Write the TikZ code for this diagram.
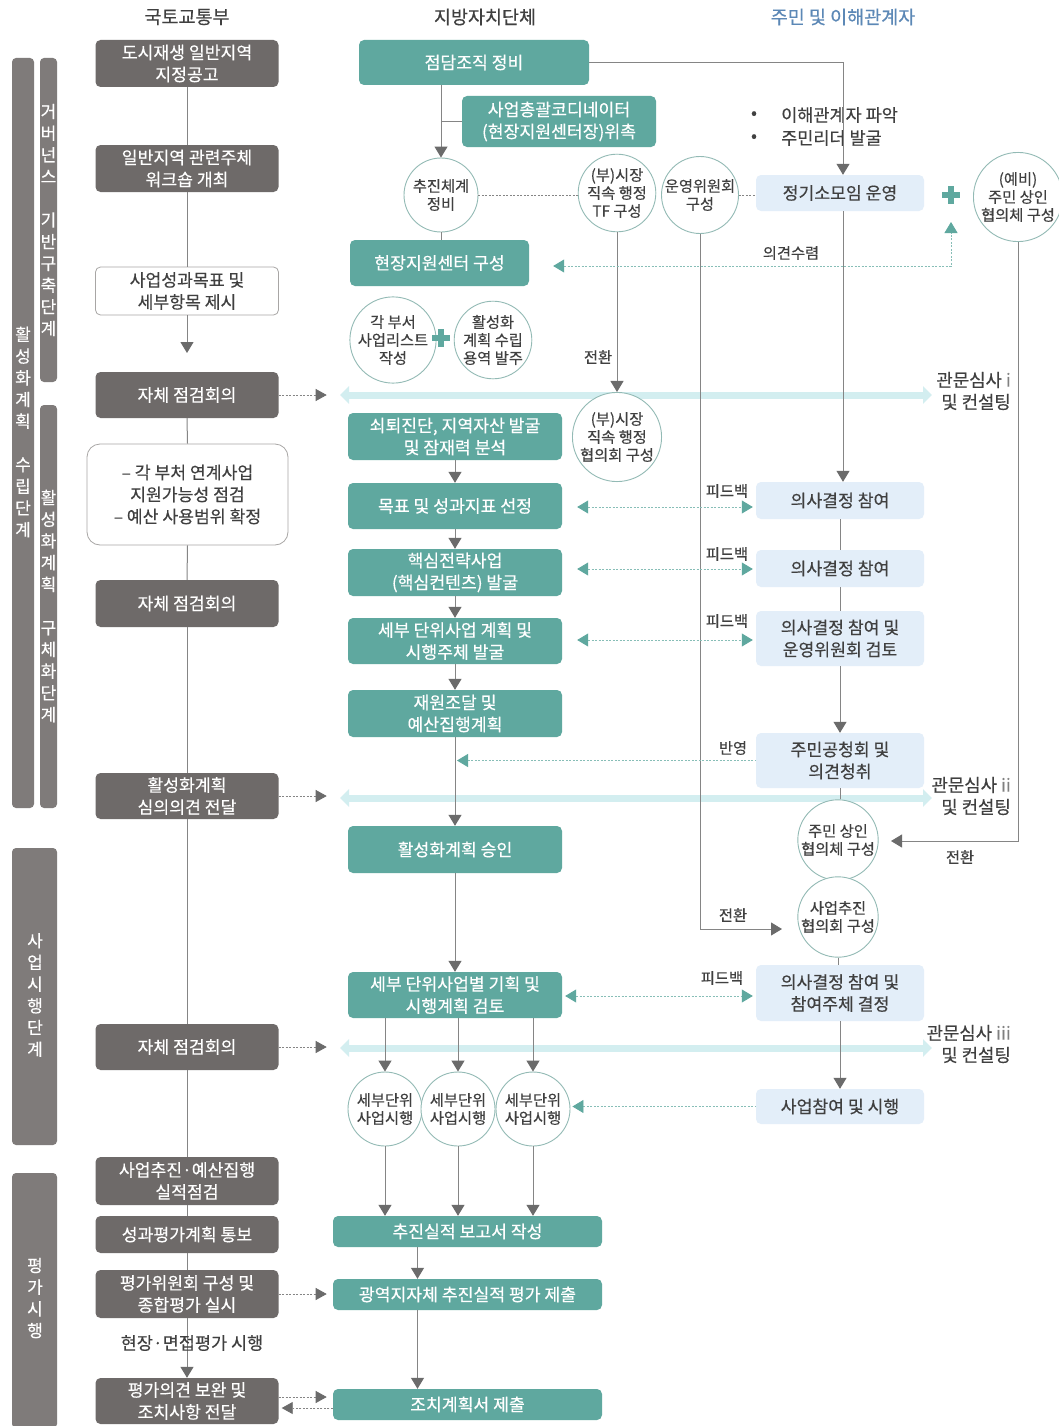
\documentclass[tikz,border=0pt]{standalone}
\usepackage{fontspec}
\setmainfont{Noto Sans CJK KR}[FakeBold=0.35]
\usetikzlibrary{arrows.meta,calc}

\definecolor{boxgray}{HTML}{6E6A69}
\definecolor{bargray}{HTML}{7F7B7A}
\definecolor{teal0}{HTML}{5FA89F}
\definecolor{pale}{HTML}{E3EEF9}
\definecolor{ringc}{HTML}{93BAB5}
\definecolor{wire}{HTML}{858585}
\definecolor{tipc}{HTML}{6B6B6B}
\definecolor{gatec}{HTML}{D3EEF0}
\definecolor{ink}{HTML}{404040}
\definecolor{headblue}{HTML}{5C88B6}

\tikzset{
  base/.style={rounded corners=5pt, align=center, inner sep=0pt,
    font=\fontsize{17.2}{22}\selectfont},
  gbox/.style={base, fill=boxgray, text=white, minimum width=183pt},
  wbox/.style={base, draw=boxgray!60, line width=0.8pt, fill=white, text=ink, minimum width=183pt},
  tbox/.style={base, fill=teal0, text=white, minimum width=214pt},
  pbox/.style={base, fill=pale, text=ink, minimum width=168pt},
  ring/.style={circle, draw=ringc, line width=0.9pt, fill=white, minimum size=74pt,
    inner sep=0pt, align=center, text=ink, font=\fontsize{15.3}{18}\selectfont},
  sidetext/.style={align=center, text=white, inner sep=0pt,
    font=\fontsize{17}{21.7}\selectfont},
  head/.style={text=ink, inner sep=0pt, font=\fontsize{18.5}{22}\selectfont},
  lbl/.style={text=ink, inner sep=0pt, font=\fontsize{15.3}{18}\selectfont},
  gatelbl/.style={text=ink, inner sep=0pt, align=right, anchor=east,
    font=\fontsize{17.8}{22}\selectfont},
  link/.style={draw=wire, line width=1pt},
  flow/.style={link, -{Triangle[length=11pt,width=13pt,color=tipc]}},
  dlink/.style={draw=wire, line width=0.8pt, dash pattern=on 2pt off 1.5pt},
  dflow/.style={dlink, -{Triangle[length=11pt,width=12pt,color=tipc]}},
  fbline/.style={draw=teal0!75, line width=0.8pt, dash pattern=on 2pt off 1.5pt},
  fb/.style={fbline, {Triangle[length=11pt,width=13pt,color=teal0]}-{Triangle[length=11pt,width=13pt,color=teal0]}},
  fbl/.style={fbline, {Triangle[length=11pt,width=13pt,color=teal0]}-},
  gate/.style={draw=gatec, line width=7pt,
    {Triangle[length=9pt,width=17pt]}-{Triangle[length=9pt,width=17pt]}}
}

\begin{document}
\begin{tikzpicture}[x=1pt,y=-1pt]
\useasboundingbox[fill=white] (0,0) rectangle (1059,1426);

% ---- stage bars on the left ----
\fill[bargray, rounded corners=4pt] (12,58) rectangle (34,808);
\fill[bargray, rounded corners=4pt] (40,58) rectangle (57,382);
\fill[bargray, rounded corners=4pt] (40,405) rectangle (57,808);
\fill[bargray, rounded corners=4pt] (12,848) rectangle (57,1145);
\fill[bargray, rounded corners=4pt] (12,1173) rectangle (57,1428);
\node[sidetext] (S1) at (23,432) {활\\성\\화\\계\\획\\[21.7pt]수\\립\\단\\계};
\node[sidetext] (S2) at (48.5,220) {거\\버\\넌\\스\\[21.7pt]기\\반\\구\\축\\단\\계};
\node[sidetext] (S3) at (48.5,606) {활\\성\\화\\계\\획\\[21.7pt]구\\체\\화\\단\\계};
\node[sidetext] (S4) at (35,995) {사\\업\\시\\행\\단\\계};
\node[sidetext] (S5) at (35,1298) {평\\가\\시\\행};

% ---- column headings ----
\node[head] (H1) at (187,17) {국토교통부};
\node[head] (H2) at (485,17) {지방자치단체};
\node[head, text=headblue] (H3) at (843,17) {주민 및 이해관계자};

% ---- review gates (drawn first, lines cross over them) ----
\coordinate (G1w) at (340,395);  \coordinate (G1e) at (932,395);
\coordinate (G2w) at (340,798);  \coordinate (G2e) at (932,798);
\coordinate (G3w) at (340,1048); \coordinate (G3e) at (932,1048);
\draw[gate] (G1w) -- (G1e);
\draw[gate] (G2w) -- (G2e);
\draw[gate] (G3w) -- (G3e);
\node[gatelbl] (GL1) at (1011,391) {관문심사 {\color{gray}i}\\및 컨설팅};
\node[gatelbl] (GL2) at (1011,796) {관문심사 {\color{gray}ii}\\및 컨설팅};
\node[gatelbl] (GL3) at (1011,1044) {관문심사 {\color{gray}iii}\\및 컨설팅};

% ---- ministry column ----
\node[gbox, minimum height=47pt] (L1) at (187,63.5) {도시재생 일반지역\\지정공고};
\node[gbox, minimum height=47pt] (L2) at (187,168.5) {일반지역 관련주체\\워크숍 개최};
\node[wbox, minimum height=48pt] (L3) at (187,291) {사업성과목표 및\\세부항목 제시};
\coordinate (L3tip) at (187,353);
\node[gbox, minimum height=46pt] (L4) at (187,395) {자체 점검회의};
\node[wbox, minimum width=201pt, minimum height=101pt, rounded corners=13pt]
      (L5) at (187.5,494.5)
      {– 각 부처 연계사업\\지원가능성 점검\\– 예산 사용범위 확정};
\node[gbox, minimum height=47pt] (L6) at (187,603.5) {자체 점검회의};
\node[gbox, minimum height=46pt] (L7) at (187,796) {활성화계획\\심의의견 전달};
\node[gbox, minimum height=46pt] (L8) at (187,1047) {자체 점검회의};
\node[gbox, minimum height=48pt] (L9) at (187,1181) {사업추진·예산집행\\실적점검};
\node[gbox, minimum height=37pt] (L10) at (187,1234.5) {성과평가계획 통보};
\node[gbox, minimum height=48pt] (L11) at (187,1294) {평가위원회 구성 및\\종합평가 실시};
\node[gbox, minimum height=46pt] (L12) at (187,1401) {평가의견 보완 및\\조치사항 전달};

\draw[link] (L1.south) -- (L2.north);
\draw[link] (L2.south) -- (L3.north);
\draw[flow] (L3.south) -- (L3tip);
\draw[link] (L4.south) -- (L5.north);
\draw[link] (L5.south) -- (L6.north);
\draw[link] (L6.south) -- (L7.north);
\draw[link] (L7.south) -- (L8.north);
\draw[link] (L8.south) -- (L9.north);
\draw[link] (L9.south) -- (L10.north);
\draw[link] (L10.south) -- (L11.north);
\draw[flow] (L11.south) -- (L12.north);
\node[lbl, font=\fontsize{17.5}{20}\selectfont] (L11n) at (192,1343) {현장·면접평가 시행};

% ---- local government column ----
\node[tbox, minimum width=230pt, minimum height=45pt] (M1) at (474,62.5) {점담조직 정비};
\node[tbox, minimum width=194pt, minimum height=51pt] (M2) at (559,121.5) {사업총괄코디네이터\\(현장지원센터장)위촉};
\node[ring] (C1) at (441,195) {추진체계\\정비};
\node[ring] (C2) at (617,193) {(부)시장\\직속 행정\\TF 구성};
\node[ring] (C3) at (700,195) {운영위원회\\구성};
\node[tbox, minimum width=179pt, minimum height=46pt] (M3) at (439.5,263) {현장지원센터 구성};
\node[ring] (C5) at (393,340) {각 부서\\사업리스트\\작성};
\node[ring] (C6) at (493,340) {활성화\\계획 수립\\용역 발주};
\coordinate (P2) at (441,338);
\fill[teal0] ($(P2)+(-9,-3)$) rectangle ($(P2)+(9,3)$);
\fill[teal0] ($(P2)+(-3,-9)$) rectangle ($(P2)+(3,9)$);
\node[ring] (C7) at (617,437) {(부)시장\\직속 행정\\협의회 구성};

\node[tbox, minimum height=47pt] (M4) at (455,436.5) {쇠퇴진단, 지역자산 발굴\\및 잠재력 분석};
\node[tbox, minimum height=46pt] (M5) at (455,506) {목표 및 성과지표 선정};
\node[tbox, minimum height=47pt] (M6) at (455,572.5) {핵심전략사업\\(핵심컨텐츠) 발굴};
\node[tbox, minimum height=46pt] (M7) at (455,641) {세부 단위사업 계획 및\\시행주체 발굴};
\node[tbox, minimum height=47pt] (M8) at (455,713.5) {재원조달 및\\예산집행계획};
\node[tbox, minimum height=47pt] (M9) at (455,849.5) {활성화계획 승인};
\node[tbox, minimum height=46pt] (M10) at (455,995) {세부 단위사업별 기획 및\\시행계획 검토};
\node[ring] (C8) at (385,1109) {세부단위\\사업시행};
\node[ring] (C9) at (458,1109) {세부단위\\사업시행};
\node[ring] (C10) at (533,1109) {세부단위\\사업시행};
\node[tbox, minimum width=269pt, minimum height=31pt] (M11) at (467.5,1231.5) {추진실적 보고서 작성};
\node[tbox, minimum width=269pt, minimum height=31pt] (M12) at (467.5,1294.5) {광역지자체 추진실적 평가 제출};
\node[tbox, minimum width=269pt, minimum height=31pt] (M13) at (467.5,1404.5) {조치계획서 제출};

\draw[flow] (M1.south -| C1.north) -- (C1.north);
\draw[link] (M2.west) -- (M2.west -| C1.north);
\draw[link] (C1.south) -- (C1.south |- M3.north);
\draw[dlink] (C1.east) -- (C1.east -| C2.west);
\draw[flow] (C2.south) -- (C7.north);
\node[lbl] (T1) at (598,357) {전환};

\draw[flow] (M4.south) -- (M5.north);
\draw[flow] (M5.south) -- (M6.north);
\draw[flow] (M6.south) -- (M7.north);
\draw[flow] (M7.south) -- (M8.north);
\draw[flow] (M8.south) -- (M9.north);
\draw[flow] (M9.south) -- (M10.north);
\draw[flow] (M10.south -| C8.north) -- (C8.north);
\draw[flow] (M10.south -| C9.north) -- (C9.north);
\draw[flow] (M10.south -| C10.north) -- (C10.north);
\draw[flow] (C8.south) -- (C8.south |- M11.north);
\draw[flow] (C9.south) -- (C9.south |- M11.north);
\draw[flow] (C10.south) -- (C10.south |- M11.north);
\draw[flow] ($(M11.south)+(-50,0)$) -- ($(M12.north)+(-50,0)$);
\draw[flow] ($(M12.south)+(-50,0)$) -- ($(M13.north)+(-50,0)$);

% ---- residents / stakeholders column ----
\node[pbox, minimum height=36pt] (R1) at (840,193) {정기소모임 운영};
\coordinate (P1) at (951,195);
\fill[teal0] ($(P1)+(-9,-3)$) rectangle ($(P1)+(9,3)$);
\fill[teal0] ($(P1)+(-3,-9)$) rectangle ($(P1)+(3,9)$);
\node[ring] (C4) at (1018,197) {(예비)\\주민 상인\\협의체 구성};
\node[lbl, font=\fontsize{17.5}{20}\selectfont] (B1d) at (754,115) {•};
\node[lbl, anchor=west, font=\fontsize{17.5}{20}\selectfont] (B1) at (781,115) {이해관계자 파악};
\node[lbl, font=\fontsize{17.5}{20}\selectfont] (B2d) at (754,138) {•};
\node[lbl, anchor=west, font=\fontsize{17.5}{20}\selectfont] (B2) at (781,138) {주민리더 발굴};

\node[pbox, minimum height=37pt] (R2) at (840,500.5) {의사결정 참여};
\node[pbox, minimum height=37pt] (R3) at (840,568.5) {의사결정 참여};
\node[pbox, minimum height=55pt] (R4) at (840,638.5) {의사결정 참여 및\\운영위원회 검토};
\node[pbox, minimum height=55pt] (R5) at (840,760.5) {주민공청회 및\\의견청취};
\node[ring] (C11) at (838,840) {주민 상인\\협의체 구성};
\node[ring] (C12) at (838,917) {사업추진\\협의회 구성};
\node[pbox, minimum height=56pt] (R6) at (840,993) {의사결정 참여 및\\참여주체 결정};
\node[pbox, minimum height=35pt] (R7) at (840,1106.5) {사업참여 및 시행};

\draw[flow] (M1.east) -| ($(R1.north)+(3,0)$);
\draw[dlink] (C3.east) -- (C3.east -| R1.west);
\draw[flow] ($(R1.south)+(3,0)$) -- ($(R2.north)+(3,0)$);
\draw[link] (R2.south) -- (R3.north);
\draw[link] (R3.south) -- (R4.north);
\draw[flow] (R4.south) -- (R5.north);
\draw[link] (R5.south) -- (R5.south |- C11.north);
\draw[link] (C12.south) -- (C12.south |- R6.north);
\draw[flow] (R6.south) -- (R7.north);

\coordinate (C12tip) at (782,929);
\draw[flow] (C3.south) |- (C12tip);
\node[lbl] (T2) at (733,915) {전환};
\coordinate (C11tip) at (891,841);
\draw[flow] (C4.south) |- (C11tip);
\node[lbl] (T3) at (960,857) {전환};

% opinion gathering loop
\draw[fb] ($(M3.east)+(24,3)$) -- ($(P1)+(0,71)$) -- ($(P1)+(0,27)$);
\node[lbl] (T4) at (791,253) {의견수렴};

% feedback exchanges
\draw[fb] ($(M5.east)+(15,1)$) -- ($(M5.east -| R2.west)+(-3,1)$);
\node[lbl] (F1) at (727,491) {피드백};
\draw[fb] ($(M6.east)+(15,-3.5)$) -- ($(M6.east -| R3.west)+(-3,-3.5)$);
\node[lbl] (F2) at (727,554) {피드백};
\draw[fb] ($(M7.east)+(15,-1)$) -- ($(M7.east -| R4.west)+(-3,-1)$);
\node[lbl] (F3) at (727,621) {피드백};
\draw[fb] ($(M10.east)+(3,1)$) -- ($(M10.east -| R6.west)+(-3,1)$);
\node[lbl] (F4) at (722,978) {피드백};
\draw[fbl] ($(R5.west -| M9.north)+(2,0)$) -- (R5.west);
\node[lbl] (F5) at (733,748) {반영};
\draw[fbl] ($(R7.west -| C10.east)+(2,0)$) -- (R7.west);

% ministry hand-offs
\draw[dflow] (L4.east) -- ++(48,0);
\draw[dflow] (L7.east) -- ++(48,0);
\draw[dflow] (L8.east) -- ++(48,0);
\draw[dflow] (L11.east) -- ++(48,0);
\draw[dflow] ($(L12.east)+(0,-4)$) -- ++(48,0);
\draw[dflow] ($(M13.west)+(0,3.5)$) -- ($(L12.east)+(3,7)$);
\end{tikzpicture}
\end{document}
